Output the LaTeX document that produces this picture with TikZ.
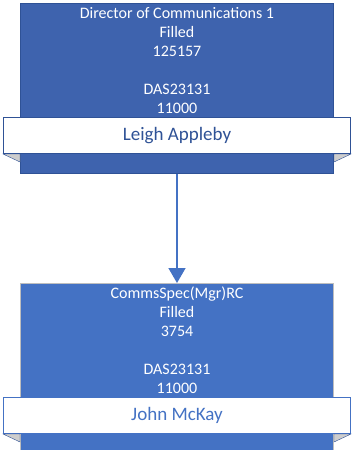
\documentclass[tikz,border=0pt]{standalone}
\usepackage{fontspec}
\setmainfont{Carlito}
\usetikzlibrary{positioning,calc,arrows.meta}
\definecolor{dirfill}{RGB}{62,99,174}
\definecolor{diredge}{RGB}{47,82,150}
\definecolor{specfill}{RGB}{68,114,196}
\definecolor{specedge}{RGB}{190,190,190}
\definecolor{foldgray}{RGB}{205,205,205}
\tikzset{
	posbox/.style={draw, line width=1pt, rectangle, minimum width=313pt, anchor=north west},
	postext/.style={align=center, text=white, inner sep=0pt, font=\fontsize{16}{19}\selectfont},
	namebar/.style={draw, line width=1pt, fill=white, rectangle, minimum width=347pt, minimum height=36pt, font=\fontsize{19}{22}\selectfont},
	fold/.style={fill=foldgray}
}
\begin{document}
\begin{tikzpicture}[x=1pt, y=-1pt]
	\useasboundingbox (0,0) rectangle (352,450);
	\clip (0,0) rectangle (352,450);
	% top position
	\node[posbox, draw=diredge, fill=dirfill, minimum height=170pt] (dirbox) at (20,3) {};
	\node[postext, below=4pt of dirbox.north] (dirtext) {Director of Communications 1\\Filled\\125157\\ \\DAS23131\\11000};
	\node[namebar, draw=diredge, text=diredge, below=114pt of dirbox.north] (dirname) {Leigh Appleby};
	\draw[fold, draw=diredge] (dirname.south west) -- ++(17,0) -- ++(0,8) -- cycle;
	\draw[fold, draw=diredge] (dirname.south east) -- ++(-17,0) -- ++(0,8) -- cycle;
	% second position
	\node[posbox, draw=specedge, fill=specfill, minimum height=180pt] (specbox) at (20,283) {};
	\node[postext, below=4pt of specbox.north] (spectext) {CommsSpec(Mgr)RC\\Filled\\3754\\ \\DAS23131\\11000};
	\node[namebar, draw=specfill, text=specfill, below=114pt of specbox.north] (specname) {John McKay};
	\draw[fold, draw=diredge] (specname.south west) -- ++(17,0) -- ++(0,8) -- cycle;
	\draw[fold, draw=diredge] (specname.south east) -- ++(-17,0) -- ++(0,8) -- cycle;

	\draw[specfill, line width=1.5pt, -{Triangle[length=15pt, width=17pt]}] (dirbox.south) -- (specbox.north);
\end{tikzpicture}
\end{document}
